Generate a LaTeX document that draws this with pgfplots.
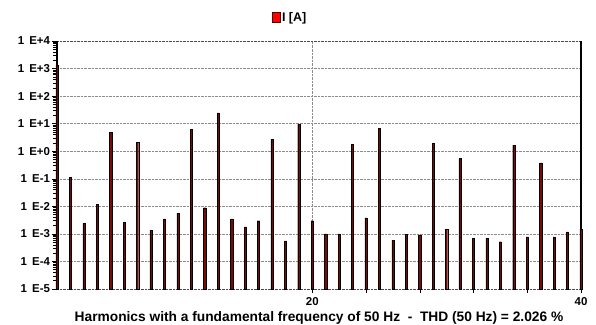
\documentclass[border=0pt]{standalone}
\usepackage{pgfplots}
\pgfplotsset{compat=1.18}
\usepackage{fontspec}
\setmainfont{Liberation Sans}
\definecolor{barred}{RGB}{120,10,10}
\definecolor{legred}{RGB}{255,0,0}
\def\minorlist{1e-5}
\foreach \e in {-5,...,3}{\foreach \m in {2,...,9}{\xdef\minorlist{\minorlist,\m e\e}}}
\begin{document}
\begin{tikzpicture}
\path[use as bounding box] (-57bp,-36bp) rectangle (539bp,289bp);
\begin{axis}[
  scale only axis,
  width=524bp, height=248bp,
  xmin=1, xmax=40,
  ymode=log, ymin=1e-5, ymax=1e4,
  log origin y=infty,
  clip=false,
  separate axis lines,
  axis lines=box,
  x axis line style={densely dotted, black!70},
  y axis line style={black, line width=1.1pt},
  xtick={20,40}, minor xtick={24,28,32,36},
  xtick pos=bottom, ytick pos=left,
  tick align=outside,
  major tick length=4.5bp, minor tick length=3.5bp,
  tick style={black, line width=0.5pt},
  ytick={1e-5,1e-4,1e-3,1e-2,1e-1,1,10,100,1000,10000},
  minor ytick/.expanded={\minorlist},
  yticklabels={1\,\ E-5,1\,\ E-4,1\,\ E-3,1\,\ E-2,1\,\ E-1,1\,\ E+0,1\,\ E+1,1\,\ E+2,1\,\ E+3,1\,\ E+4},
  /pgf/number format/assume math mode=true,
  tick label style={font=\fontsize{11.5}{13}\selectfont\bfseries},
  yticklabel style={xshift=1bp},
  ymajorgrids, xmajorgrids,
  grid style={densely dotted, black!45},
  xlabel={Harmonics with a fundamental frequency of 50 Hz\ \ -\ \ THD (50 Hz) = 2.026 \%},
  xlabel style={font=\fontsize{13.8}{15}\selectfont\bfseries, yshift=0bp},
  legend style={at={(0.445,1.095)}, anchor=center, draw=none, fill=none,
    font=\fontsize{12.5}{13}\selectfont\bfseries, inner sep=0pt},
  legend image code/.code={\draw[fill=legred, draw=black!70!red, line width=0.5pt] (-1bp,-5bp) rectangle (6.5bp,5.5bp);},
]
\addplot[ybar, bar width=2.2bp, fill=barred, draw=black, line width=0.4pt] coordinates {
(1,1350) (2,0.11) (3,0.0024) (4,0.012) (5,4.9) (6,0.0026) (7,2.15) (8,0.00135)
(9,0.0035) (10,0.0057) (11,6.4) (12,0.0089) (13,24.5) (14,0.0035) (15,0.0018)
(16,0.003) (17,2.77) (18,0.00056) (19,9.5) (20,0.003) (21,0.001) (22,0.001)
(23,1.82) (24,0.0038) (25,6.8) (26,0.0006) (27,0.00099) (28,0.00092) (29,1.94)
(30,0.00146) (31,0.54) (32,0.00069) (33,0.00069) (34,0.00052) (35,1.68)
(36,0.00078) (37,0.38) (38,0.00078) (39,0.00118) (40,0.0015)
};
\addlegendentry{I [A]}
\end{axis}
\end{tikzpicture}
\end{document}
